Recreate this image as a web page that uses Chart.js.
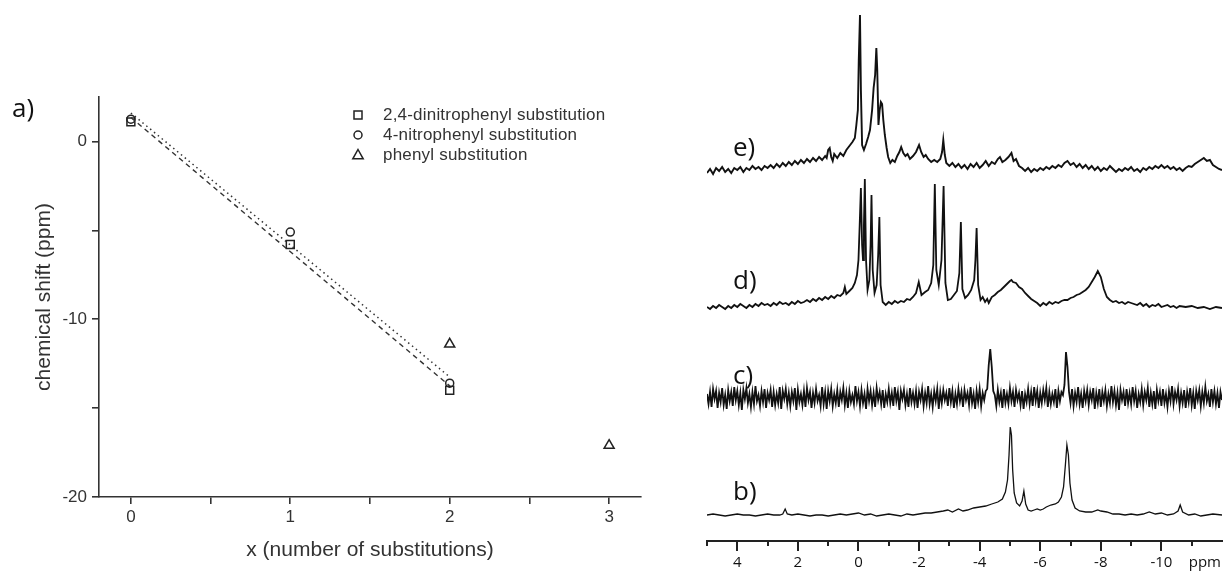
<!DOCTYPE html>
<html>
<head>
<meta charset="utf-8">
<script src="https://cdn.jsdelivr.net/npm/chart.js@4.4.0/dist/chart.umd.min.js"></script>
<style>
  body { margin: 0; background: #fff; }
  #wrap { position: relative; width: 1223px; height: 575px; overflow: hidden; }
  canvas { position: absolute; top: 0; }
  .lbl { position: absolute; font-family: "Open Sans", sans-serif; font-size: 26px; line-height: 26px; color: #111; }
</style>
</head>
<body>
<div id="wrap">
  <canvas id="shiftChart" width="700" height="575" style="left:0"></canvas>
  <canvas id="nmrChart" width="523" height="575" style="left:700px"></canvas>
  <div class="lbl" style="left:12px;top:94px">a)</div>
  <div class="lbl" style="left:733px;top:133px">e)</div>
  <div class="lbl" style="left:733px;top:266px">d)</div>
  <div class="lbl" style="left:733px;top:361px">c)</div>
  <div class="lbl" style="left:733px;top:477px">b)</div>
</div>
<script>
// ---- panel a: chemical shift vs number of substitutions ----
const seriesNames = ['2,4-dinitrophenyl substitution', '4-nitrophenyl substitution', 'phenyl substitution'];
const dinitroX = [0, 1, 2];
const dinitroY = [1.1, -5.8, -14.0];
const nitroX = [0, 1, 2];
const nitroY = [1.25, -5.1, -13.6];
const phenylX = [2, 3];
const phenylY = [-11.4, -17.1];
// fitted lines, read at their ends
const dinitroFitX = [0, 2];
const dinitroFitY = [1.35, -13.75];
const nitroFitX = [0, 2];
const nitroFitY = [1.6, -13.25];

// ---- NMR spectra: [ppm, intensity above own baseline] ----
const specE = [[5.0,-3],[4.9,1],[4.8,-4],[4.7,2],[4.6,-1],[4.5,3],[4.4,-2],[4.3,1],[4.2,-3],[4.1,2],[4.0,0],[3.9,3],[3.8,-2],[3.7,2],[3.6,0],[3.5,4],[3.4,1],[3.3,3],[3.2,0],[3.1,4],[3.0,2],[2.9,5],[2.8,2],[2.7,6],[2.6,3],[2.5,7],[2.4,4],[2.3,8],[2.2,5],[2.1,9],[2.0,6],[1.9,10],[1.8,7],[1.7,11],[1.6,8],[1.5,12],[1.4,9],[1.3,13],[1.2,10],[1.1,14],[1.05,12],[1.0,20],[0.95,22],[0.9,13],[0.85,9],[0.8,16],[0.7,12],[0.6,17],[0.5,14],[0.4,20],[0.3,24],[0.2,28],[0.12,32],[0.07,45],[0.02,60],[-0.01,110],[-0.05,155],[-0.08,80],[-0.12,25],[-0.18,20],[-0.25,26],[-0.32,33],[-0.38,40],[-0.45,60],[-0.5,82],[-0.55,95],[-0.59,122],[-0.62,100],[-0.66,45],[-0.7,60],[-0.74,68],[-0.78,66],[-0.82,50],[-0.87,35],[-0.93,22],[-0.98,13],[-1.05,7],[-1.12,10],[-1.2,8],[-1.28,14],[-1.35,18],[-1.41,23],[-1.48,17],[-1.55,14],[-1.62,16],[-1.7,11],[-1.8,14],[-1.9,18],[-2.0,25],[-2.07,18],[-2.15,13],[-2.22,15],[-2.3,11],[-2.4,8],[-2.5,10],[-2.6,8],[-2.7,11],[-2.76,18],[-2.8,30],[-2.85,15],[-2.9,7],[-3.0,4],[-3.1,7],[-3.2,3],[-3.3,6],[-3.4,2],[-3.5,5],[-3.6,1],[-3.7,6],[-3.8,3],[-3.9,7],[-4.0,2],[-4.1,5],[-4.2,9],[-4.3,4],[-4.4,8],[-4.5,6],[-4.6,11],[-4.67,13],[-4.75,8],[-4.85,10],[-4.95,13],[-5.05,17],[-5.12,9],[-5.2,11],[-5.3,4],[-5.4,2],[-5.5,-1],[-5.6,2],[-5.7,-2],[-5.8,1],[-5.9,-1],[-6.0,2],[-6.1,0],[-6.2,3],[-6.3,1],[-6.4,4],[-6.5,2],[-6.6,5],[-6.7,3],[-6.8,7],[-6.9,9],[-7.0,5],[-7.1,7],[-7.2,3],[-7.3,6],[-7.4,2],[-7.5,5],[-7.6,1],[-7.7,4],[-7.8,0],[-7.9,3],[-8.0,-1],[-8.1,2],[-8.2,0],[-8.3,4],[-8.4,1],[-8.5,-2],[-8.6,1],[-8.7,-1],[-8.8,2],[-8.9,0],[-9.0,3],[-9.1,-1],[-9.2,1],[-9.3,-2],[-9.4,2],[-9.5,0],[-9.6,3],[-9.7,1],[-9.8,4],[-9.9,2],[-10.0,5],[-10.1,2],[-10.2,4],[-10.3,1],[-10.4,3],[-10.5,0],[-10.6,2],[-10.7,-1],[-10.8,2],[-10.9,4],[-11.0,3],[-11.1,6],[-11.2,8],[-11.3,10],[-11.4,12],[-11.5,9],[-11.6,10],[-11.7,5],[-11.8,3],[-11.9,1],[-12.0,0]];
const specD = [[5.0,-2],[4.9,-4],[4.8,-1],[4.7,-3],[4.6,0],[4.5,-2],[4.4,-4],[4.3,-1],[4.2,-3],[4.1,0],[4.0,-2],[3.9,1],[3.8,-1],[3.7,-3],[3.6,0],[3.5,-2],[3.4,1],[3.3,-1],[3.2,2],[3.1,0],[3.0,1],[2.9,-1],[2.8,2],[2.7,0],[2.6,3],[2.5,1],[2.4,2],[2.3,0],[2.2,3],[2.1,1],[2.0,4],[1.9,2],[1.8,3],[1.7,5],[1.6,3],[1.5,6],[1.4,4],[1.3,7],[1.2,5],[1.1,8],[1.0,6],[0.9,9],[0.8,7],[0.7,10],[0.6,9],[0.5,12],[0.45,18],[0.4,11],[0.3,14],[0.2,17],[0.12,22],[0.05,30],[0.0,45],[-0.04,80],[-0.08,117],[-0.12,60],[-0.15,45],[-0.18,80],[-0.21,126],[-0.25,45],[-0.3,15],[-0.36,25],[-0.4,60],[-0.43,110],[-0.47,35],[-0.53,12],[-0.6,20],[-0.65,50],[-0.69,88],[-0.73,20],[-0.8,3],[-0.9,0],[-1.0,3],[-1.1,1],[-1.2,4],[-1.3,2],[-1.4,4],[-1.5,3],[-1.6,6],[-1.7,5],[-1.8,8],[-1.9,12],[-1.99,23],[-2.08,10],[-2.2,13],[-2.3,15],[-2.4,22],[-2.47,40],[-2.52,121],[-2.57,35],[-2.65,20],[-2.74,45],[-2.81,119],[-2.87,22],[-2.95,5],[-3.05,6],[-3.15,10],[-3.25,14],[-3.33,32],[-3.38,83],[-3.43,16],[-3.52,7],[-3.62,10],[-3.72,15],[-3.82,25],[-3.86,45],[-3.9,77],[-3.95,20],[-4.03,5],[-4.1,8],[-4.18,3],[-4.25,6],[-4.3,2],[-4.4,8],[-4.5,10],[-4.6,13],[-4.7,15],[-4.8,18],[-4.9,21],[-5.0,24],[-5.05,25],[-5.1,23],[-5.2,22],[-5.3,18],[-5.4,16],[-5.5,12],[-5.6,9],[-5.7,6],[-5.8,4],[-5.9,2],[-6.0,-1],[-6.1,2],[-6.2,0],[-6.3,3],[-6.4,1],[-6.5,3],[-6.6,2],[-6.7,4],[-6.8,5],[-6.9,5],[-7.0,7],[-7.1,8],[-7.2,10],[-7.3,11],[-7.4,13],[-7.5,15],[-7.6,18],[-7.7,23],[-7.8,28],[-7.9,34],[-8.0,28],[-8.1,16],[-8.2,8],[-8.3,5],[-8.4,3],[-8.5,4],[-8.6,2],[-8.7,3],[-8.8,1],[-8.9,3],[-9.0,2],[-9.2,0],[-9.3,2],[-9.4,-1],[-9.5,1],[-9.6,-2],[-9.7,0],[-9.8,-1],[-9.9,1],[-10.0,-2],[-10.2,0],[-10.3,-2],[-10.4,-1],[-10.5,-3],[-10.6,-1],[-10.8,-2],[-11.0,-1],[-11.2,-3],[-11.4,-2],[-11.6,-4],[-11.8,-2],[-12.0,-3]];
// spectrum c) is sampled every 0.05 ppm, starting at 5.00 ppm
const specCStart = 5.0;
const specCStep = 0.05;
const specCValues = [
  3,-7,5,-10,8,-2,6,-11,4,-5,9,-8,2,-12,7,-4,5,-9,10,-3,
  6,-8,4,-13,7,-2,9,-6,3,-10,5,-7,11,-4,2,-9,6,-5,8,-11,
  4,-3,7,-10,5,-8,3,-6,10,-12,6,-2,8,-7,4,-9,5,-4,9,-13,
  7,-5,3,-8,6,-10,9,-3,5,-11,4,-6,8,-4,2,-9,10,-7,5,-12,
  6,-4,8,-9,3,-6,7,-10,5,-3,9,-8,4,-11,6,-5,2,-7,11,-4,
  5,-9,7,-6,3,-12,8,-4,6,-8,4,-10,9,-3,5,-7,7,-11,3,-5,
  8,-6,4,-9,10,-4,5,-13,6,-2,7,-8,3,-10,9,-5,4,-7,6,-11,
  5,-3,8,-9,4,-6,11,-7,3,-10,6,-4,8,-12,5,-6,7,-3,4,-9,
  9,-5,6,-11,3,-7,8,-4,5,-10,7,-3,4,-8,10,-6,3,-12,6,-5,
  8,-9,4,-3,6,8,32,48,30,6,2,-9,7,-5,4,-11,8,-6,3,-7,
  9,-4,5,-10,7,-3,4,-8,6,-12,3,-5,8,-7,5,-9,10,-4,6,-11,
  4,-6,7,-3,9,-10,5,-7,3,-5,8,-11,6,-4,5,2,12,45,30,5,
  -6,8,-9,4,-5,10,-7,3,-11,6,-4,7,-8,5,-3,9,-12,4,-6,8,
  -10,5,-4,7,-9,3,-6,11,-5,6,-8,4,-13,7,-3,5,-9,8,-6,4,
  -7,10,-4,6,-11,3,-5,8,-8,5,-3,9,-10,4,-7,6,-12,7,-4,5,
  -9,8,-6,3,-10,6,-4,11,-7,5,-3,8,-9,4,-6,7,-11,5,-5,9,
  -8,4,-12,6,-3,7,-9,5,-6,10,-4,3,-10,8,-5,6,-7,4,-11,5,
  -3
];
const specB = [[5.0,0],[4.8,1],[4.6,0],[4.4,-1],[4.2,0],[4.0,1],[3.8,0],[3.6,0],[3.4,-1],[3.2,0],[3.0,1],[2.8,0],[2.6,0],[2.5,1],[2.42,6],[2.35,1],[2.2,0],[2.0,1],[1.8,0],[1.6,-1],[1.4,0],[1.2,0],[1.0,-1],[0.8,0],[0.6,1],[0.4,0],[0.2,1],[0.0,2],[-0.2,0],[-0.4,1],[-0.6,-1],[-0.8,0],[-1.0,1],[-1.2,0],[-1.4,-1],[-1.6,1],[-1.8,0],[-2.0,1],[-2.2,2],[-2.4,2],[-2.6,3],[-2.8,4],[-2.95,5],[-3.1,3],[-3.3,6],[-3.45,4],[-3.6,5],[-3.8,7],[-4.0,8],[-4.2,9],[-4.4,11],[-4.6,13],[-4.75,16],[-4.85,23],[-4.92,35],[-4.97,60],[-5.01,88],[-5.05,80],[-5.09,45],[-5.14,22],[-5.22,12],[-5.32,9],[-5.4,14],[-5.46,24],[-5.52,11],[-5.6,5],[-5.7,4],[-5.8,5],[-5.9,6],[-6.0,5],[-6.1,6],[-6.2,8],[-6.35,10],[-6.5,11],[-6.6,13],[-6.7,18],[-6.77,28],[-6.83,50],[-6.88,70],[-6.93,60],[-6.98,32],[-7.05,15],[-7.15,7],[-7.3,4],[-7.5,3],[-7.7,3],[-7.9,5],[-8.0,4],[-8.2,3],[-8.4,1],[-8.6,1],[-8.8,0],[-9.0,1],[-9.2,0],[-9.4,1],[-9.6,3],[-9.8,1],[-10.0,2],[-10.2,0],[-10.4,1],[-10.55,4],[-10.62,10],[-10.7,3],[-10.9,0],[-11.1,1],[-11.3,-1],[-11.5,0],[-11.7,1],[-12.0,0]];
const ppmMajor = [4, 2, 0, -2, -4, -6, -8, -10];
const ppmMinor = [5, 3, 1, -1, -3, -5, -7, -9, -11];

const toXY = (xs, ys) => xs.map((x, i) => ({ x: x, y: ys[i] }));

// legend drawn inside the plot area
const insideLegend = {
  id: 'insideLegend',
  afterDraw(chart) {
    const ctx = chart.ctx;
    const styles = ['rect', 'circle', 'triangle'];
    const rows = [115, 135, 155];
    ctx.save();
    ctx.strokeStyle = '#222';
    ctx.lineWidth = 1.5;
    ctx.fillStyle = '#333';
    ctx.font = '17px "Liberation Sans", Arial, sans-serif';
    ctx.letterSpacing = '0.2px';
    ctx.textBaseline = 'middle';
    seriesNames.forEach((name, i) => {
      const y = rows[i], x = 358;
      ctx.beginPath();
      if (styles[i] === 'rect') ctx.rect(x - 4, y - 4, 8, 8);
      else if (styles[i] === 'circle') ctx.arc(x, y, 4, 0, Math.PI * 2);
      else { ctx.moveTo(x, y - 5.5); ctx.lineTo(x + 5.2, y + 3.8); ctx.lineTo(x - 5.2, y + 3.8); ctx.closePath(); }
      ctx.stroke();
      ctx.fillText(name, 383, y);
    });
    ctx.restore();
  }
};

const markerBase = { showLine: false, pointBackgroundColor: 'rgba(0,0,0,0)', pointBorderColor: '#222', pointBorderWidth: 1.5 };
new Chart(document.getElementById('shiftChart'), {
  type: 'scatter',
  data: {
    datasets: [
      { label: 'fit dinitro', data: toXY(dinitroFitX, dinitroFitY), showLine: true, borderColor: '#333', borderWidth: 1.4, borderDash: [5, 4], pointRadius: 0 },
      { label: 'fit nitro', data: toXY(nitroFitX, nitroFitY), showLine: true, borderColor: '#333', borderWidth: 1.5, borderDash: [1.5, 3.5], pointRadius: 0 },
      Object.assign({ label: seriesNames[0], data: toXY(dinitroX, dinitroY), pointStyle: 'rect', pointRadius: 5.6 }, markerBase),
      Object.assign({ label: seriesNames[1], data: toXY(nitroX, nitroY), pointStyle: 'circle', pointRadius: 4 }, markerBase),
      Object.assign({ label: seriesNames[2], data: toXY(phenylX, phenylY), pointStyle: 'triangle', pointRadius: 5.8 }, markerBase)
    ]
  },
  options: {
    responsive: false,
    animation: false,
    devicePixelRatio: 1,
    layout: { padding: { left: 0, right: 59, top: 97, bottom: 0 } },
    plugins: { legend: { display: false }, tooltip: { enabled: false } },
    scales: {
      x: {
        type: 'linear', min: -0.2, max: 3.2,
        afterFit: s => { s.height = 78; },
        border: { color: '#333', width: 1.6 },
        grid: { drawOnChartArea: false, tickLength: 7, color: '#333', lineWidth: 1.6 },
        ticks: { stepSize: 0.5, includeBounds: false, color: '#333', padding: 3,
          font: { family: 'Liberation Sans', size: 17 },
          callback: v => Number.isInteger(v) ? v : '' },
        title: { display: true, text: 'x (number of substitutions)', color: '#333',
          font: { family: 'Liberation Sans', size: 21 }, padding: { top: 0, bottom: 12 } }
      },
      y: {
        type: 'linear', min: -20, max: 2.5,
        afterFit: s => { s.width = 99; },
        border: { color: '#333', width: 1.6 },
        grid: { drawOnChartArea: false, tickLength: 7, color: '#333', lineWidth: 1.6 },
        ticks: { stepSize: 5, includeBounds: false, color: '#333', padding: 5,
          font: { family: 'Liberation Sans', size: 17 },
          callback: v => v % 10 === 0 ? v : '' },
        title: { display: true, text: 'chemical shift (ppm)', color: '#333',
          font: { family: 'Liberation Sans', size: 21 }, padding: { top: 32, bottom: 0 } }
      }
    }
  },
  plugins: [insideLegend]
});

// ---- stacked spectra ----
const axisExtras = {
  id: 'axisExtras',
  afterDraw(chart) {
    const sx = chart.scales.x, ctx = chart.ctx, y0 = chart.chartArea.bottom;
    ctx.save();
    ctx.strokeStyle = '#222';
    ctx.lineWidth = 2;
    ppmMinor.forEach(v => {
      const px = Math.round(sx.getPixelForValue(v));
      ctx.beginPath(); ctx.moveTo(px, y0); ctx.lineTo(px, y0 + 5); ctx.stroke();
    });
    ctx.fillStyle = '#111';
    ctx.font = '15px "Open Sans", sans-serif';
    ctx.textAlign = 'right';
    ctx.textBaseline = 'middle';
    ctx.fillText('ppm', chart.chartArea.right - 1, y0 + 22);
    ctx.restore();
  }
};

const stack = (spec, base) => spec.map(p => ({ x: p[0], y: p[1] + base }));
const stackSampled = (start, step, vals, base) => vals.map((v, i) => ({ x: start - i * step, y: v + base }));
const traceStyle = { showLine: true, pointRadius: 0, borderColor: '#111', tension: 0 };
new Chart(document.getElementById('nmrChart'), {
  type: 'scatter',
  data: {
    datasets: [
      Object.assign({ label: 'e', data: stack(specE, 371), borderWidth: 1.9 }, traceStyle),
      Object.assign({ label: 'd', data: stack(specD, 236), borderWidth: 1.8 }, traceStyle),
      Object.assign({ label: 'c', data: stackSampled(specCStart, specCStep, specCValues, 144), borderWidth: 1.8 }, traceStyle),
      Object.assign({ label: 'b', data: stack(specB, 26), borderWidth: 1.3 }, traceStyle)
    ]
  },
  options: {
    responsive: false,
    animation: false,
    devicePixelRatio: 1,
    layout: { padding: { left: 7, right: 1, top: 0, bottom: 0 } },
    plugins: { legend: { display: false }, tooltip: { enabled: false } },
    scales: {
      x: {
        type: 'linear', reverse: true, min: -12, max: 5,
        afterFit: s => { s.height = 34; },
        border: { color: '#222', width: 2 },
        grid: { drawOnChartArea: false, tickLength: 10, color: '#222', lineWidth: 2 },
        afterBuildTicks: s => { s.ticks = ppmMajor.map(v => ({ value: v })); },
        ticks: { color: '#111', padding: 3, maxRotation: 0, autoSkip: false,
          font: { family: 'Open Sans', size: 15 } }
      },
      y: { display: false, min: 0, max: 541 }
    }
  },
  plugins: [axisExtras]
});
</script>
</body>
</html>
